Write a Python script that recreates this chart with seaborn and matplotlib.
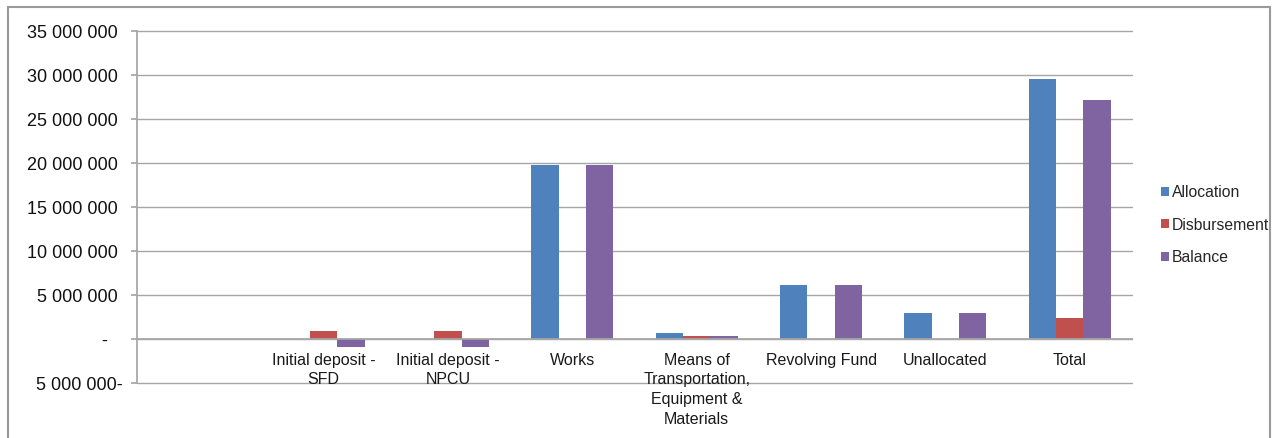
import matplotlib
matplotlib.use("Agg")
import matplotlib.pyplot as plt
from matplotlib.patches import Rectangle
from matplotlib.ticker import FixedLocator, FuncFormatter
import numpy as np
import pandas as pd
import seaborn as sns

categories = [
    "",
    "Initial deposit -\nSFD",
    "Initial deposit -\nNPCU",
    "Works",
    "Means of\nTransportation,\nEquipment &\nMaterials",
    "Revolving Fund",
    "Unallocated",
    "Total",
]
series = ["Allocation", "Disbursement", "Balance"]
allocation = [0, 0, 0, 19_770_000, 720_000, 6_170_000, 2_920_000, 29_580_000]
disbursement = [0, 950_000, 950_000, 0, 380_000, 0, 0, 2_350_000]
balance = [0, -950_000, -900_000, 19_770_000, 320_000, 6_170_000, 2_920_000, 27_200_000]
y_ticks = [-5_000_000, 0, 5_000_000, 10_000_000, 15_000_000, 20_000_000,
           25_000_000, 30_000_000, 35_000_000]

colors = ["#4F81BD", "#C0504D", "#8064A2"]

df = pd.DataFrame({
    "category": categories * 3,
    "series": np.repeat(series, len(categories)),
    "value": allocation + disbursement + balance,
})

sns.set_theme(style="white")
plt.rcParams["font.family"] = ["Liberation Sans", "DejaVu Sans"]

fig = plt.figure(figsize=(12.73, 4.38), dpi=100)
ax = fig.add_axes([137 / 1273, 1 - 383 / 438, (1132 - 137) / 1273, (383 - 31) / 438])

sns.barplot(data=df, x="category", y="value", hue="series", order=categories,
            hue_order=series, palette=colors, width=0.66, gap=0,
            saturation=1, linewidth=0, ax=ax, legend=True)

ax.set_xlim(-0.5, len(categories) - 0.5)
ax.set_ylim(y_ticks[0], y_ticks[-1])
ax.set_xlabel("")
ax.set_ylabel("")

# horizontal gridlines (drawn unclipped so the outer ones show fully)
ax.yaxis.set_major_locator(FixedLocator(y_ticks))
for v in y_ticks:
    ax.axhline(v, color="#A6A6A6", linewidth=1.0, zorder=0, clip_on=False)


def fmt(v, pos):
    # accounting style: dash for zero, trailing minus for negatives
    if v == 0:
        return "-   "
    s = f"{abs(int(v)):,}".replace(",", " ")
    return s + "-" if v < 0 else s + " "


ax.yaxis.set_major_formatter(FuncFormatter(fmt))
ax.tick_params(axis="y", length=4, color="#A6A6A6", labelsize=13,
               labelcolor="#111111", pad=6.5, left=True)

# category axis sits on the zero line
for s in ["top", "right"]:
    ax.spines[s].set_visible(False)
ax.spines["bottom"].set_position(("data", 0))
ax.spines["bottom"].set_color("#A6A6A6")
ax.spines["left"].set_color("#A6A6A6")
ax.set_xticks(range(len(categories)))
ax.set_xticklabels(categories, fontsize=11.5, color="#1a1a1a", linespacing=1.38,
                   va="top")
ax.tick_params(axis="x", which="major", length=0, pad=10)
ax.set_xticks(np.arange(0.5, len(categories) - 0.5 + 0.01, 1.0), minor=True)
ax.tick_params(axis="x", which="minor", length=5, color="#A6A6A6", direction="out")

leg = ax.get_legend()
handles, labels = ax.get_legend_handles_labels()
leg.remove()
fig.legend(handles, labels, loc="center left", bbox_to_anchor=(1161 / 1273, 1 - 225 / 438),
           frameon=False, fontsize=11.3, handlelength=0.5, handleheight=0.5,
           handletextpad=0.2, labelspacing=1.1, borderaxespad=0, borderpad=0)

# chart border
fig.patches.append(Rectangle((8 / 1273, -0.05), (1270 - 8) / 1273, 1 - 7 / 438 + 0.05,
                             transform=fig.transFigure, fill=False,
                             edgecolor="#9a9a9a", linewidth=1.5))

fig.savefig("out.png", dpi=100)
